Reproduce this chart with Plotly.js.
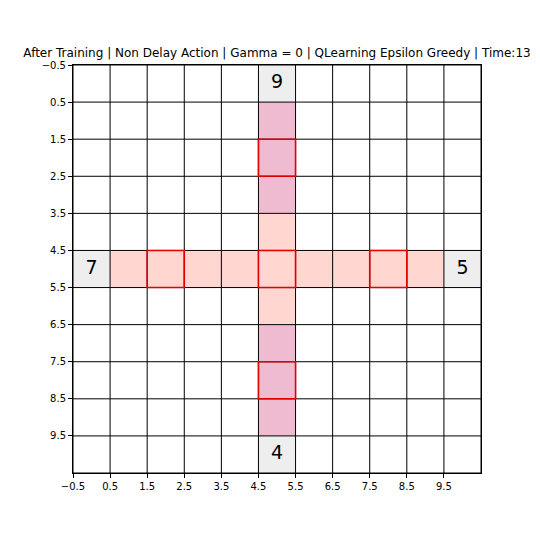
<!DOCTYPE html>
<html>
<head>
<meta charset="utf-8">
<script src="https://cdn.plot.ly/plotly-3.0.1.min.js"></script>
<style>html,body{margin:0;padding:0;background:#fff;}#chart{width:540px;height:540px;}</style>
</head>
<body>
<div id="chart"></div>
<script>
// Grid cell codes: 0 = empty, 1 = endpoint (gray), 2 = pink, 3 = salmon
const cellCode = [
  [0,0,0,0,0,1,0,0,0,0,0],
  [0,0,0,0,0,2,0,0,0,0,0],
  [0,0,0,0,0,2,0,0,0,0,0],
  [0,0,0,0,0,2,0,0,0,0,0],
  [0,0,0,0,0,3,0,0,0,0,0],
  [1,3,3,3,3,3,3,3,3,3,1],
  [0,0,0,0,0,3,0,0,0,0,0],
  [0,0,0,0,0,2,0,0,0,0,0],
  [0,0,0,0,0,2,0,0,0,0,0],
  [0,0,0,0,0,2,0,0,0,0,0],
  [0,0,0,0,0,1,0,0,0,0,0]
];
const labelRows = [0, 5, 5, 10];
const labelCols = [5, 0, 10, 5];
const labelText = ['9', '7', '5', '4'];
const redRows = [2, 5, 5, 5, 8];
const redCols = [5, 2, 5, 8, 5];
const tickVals = [-0.5, 0.5, 1.5, 2.5, 3.5, 4.5, 5.5, 6.5, 7.5, 8.5, 9.5];
const tickText = ['\u22120.5', '0.5', '1.5', '2.5', '3.5', '4.5', '5.5', '6.5', '7.5', '8.5', '9.5'];
const titleText = 'After Training | Non Delay Action | Gamma = 0 | QLearning Epsilon Greedy | Time:13';

const nRows = cellCode.length, nCols = cellCode[0].length;
const white = '#ffffff', gray = '#eeeeee', pink = '#eebbd0', salmon = '#ffd6d0';

const heat = {
  type: 'heatmap',
  z: cellCode,
  x: [...Array(nCols).keys()],
  y: [...Array(nRows).keys()],
  zmin: 0, zmax: 3,
  colorscale: [[0, white],[0.1667, white],[0.1667, gray],[0.5, gray],[0.5, pink],[0.8333, pink],[0.8333, salmon],[1, salmon]],
  showscale: false,
  hoverinfo: 'skip'
};
const txt = {
  type: 'scatter', mode: 'text',
  x: labelCols, y: labelRows, text: labelText,
  textfont: {family: 'DejaVu Sans', size: 19, color: '#000'},
  hoverinfo: 'skip', showlegend: false
};

const shapes = [];
for (let k = 0; k <= nCols; k++) {
  shapes.push({type: 'line', xref: 'x', yref: 'y', x0: k - 0.5, x1: k - 0.5, y0: -0.5, y1: nRows - 0.5, line: {color: '#000', width: 1}, layer: 'above'});
}
for (let k = 0; k <= nRows; k++) {
  shapes.push({type: 'line', xref: 'x', yref: 'y', y0: k - 0.5, y1: k - 0.5, x0: -0.5, x1: nCols - 0.5, line: {color: '#000', width: 1}, layer: 'above'});
}
for (let i = 0; i < redRows.length; i++) {
  shapes.push({type: 'rect', xref: 'x', yref: 'y', x0: redCols[i] - 0.5, x1: redCols[i] + 0.5, y0: redRows[i] - 0.5, y1: redRows[i] + 0.5, line: {color: '#e00000', width: 1.6}, fillcolor: 'rgba(0,0,0,0)', layer: 'above'});
}

const axisCommon = {
  tickmode: 'array', tickvals: tickVals, ticktext: tickText,
  ticks: 'outside', ticklen: 4, tickwidth: 1, tickcolor: '#000',
  showgrid: false, zeroline: false,
  showline: true, linecolor: '#000', linewidth: 1, mirror: true,
  tickfont: {family: 'DejaVu Sans', size: 10, color: '#000'}
};

const layout = {
  width: 540, height: 540,
  margin: {l: 73, r: 59, t: 65, b: 67},
  paper_bgcolor: '#fff', plot_bgcolor: '#fff',
  title: {text: titleText, font: {family: 'DejaVu Sans', size: 12, color: '#000'}, x: 0.513, xanchor: 'center', xref: 'container', y: 0.894, yanchor: 'bottom', yref: 'container'},
  xaxis: Object.assign({}, axisCommon, {range: [-0.5, nCols - 0.5]}),
  yaxis: Object.assign({}, axisCommon, {range: [nRows - 0.5, -0.5]}),
  shapes: shapes,
  showlegend: false
};

Plotly.newPlot('chart', [heat, txt], layout, {displayModeBar: false, staticPlot: true});
</script>
</body>
</html>
